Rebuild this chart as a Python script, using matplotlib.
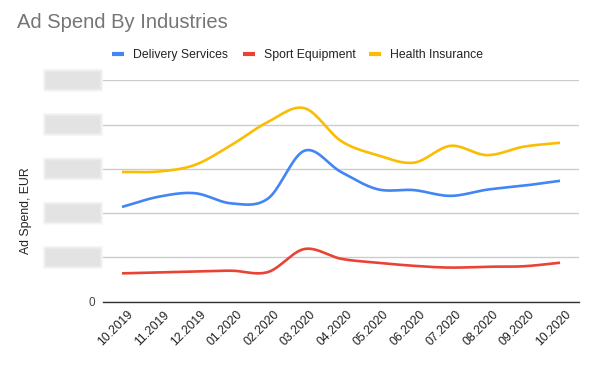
import numpy as np
import matplotlib
matplotlib.use('Agg')
import matplotlib.pyplot as plt
import matplotlib.transforms as mtransforms
from matplotlib.lines import Line2D
from matplotlib.patches import FancyBboxPatch

plt.rcParams['font.family'] = ['Liberation Sans', 'DejaVu Sans']

# data (units = gridline steps)
months = ['10.2019', '11.2019', '12.2019', '01.2020', '02.2020', '03.2020', '04.2020',
          '05.2020', '06.2020', '07.2020', '08.2020', '09.2020', '10.2020']
delivery = [2.14, 2.37, 2.45, 2.22, 2.33, 3.41, 2.93, 2.54, 2.52, 2.39, 2.53, 2.62, 2.73]
sport = [0.64, 0.66, 0.68, 0.70, 0.67, 1.19, 0.97, 0.88, 0.81, 0.77, 0.79, 0.80, 0.88]
health = [2.93, 2.94, 3.09, 3.54, 4.06, 4.37, 3.63, 3.31, 3.14, 3.52, 3.31, 3.50, 3.59]
yticks = [0, 1, 2, 3, 4, 5]

series = [('Delivery Services', delivery, '#4285f4'),
          ('Sport Equipment', sport, '#ea4335'),
          ('Health Insurance', health, '#fbbc04')]


def smooth(y, n=20):
    # catmull-rom curve through the points, like the "function" curve
    y = np.asarray(y, float)
    m = np.zeros_like(y)
    m[1:-1] = (y[2:] - y[:-2]) / 2
    m[0] = y[1] - y[0]
    m[-1] = y[-1] - y[-2]
    xs, ys = [], []
    for i in range(len(y) - 1):
        t = np.linspace(0, 1, n, endpoint=False)
        h00 = 2*t**3 - 3*t**2 + 1
        h10 = t**3 - 2*t**2 + t
        h01 = -2*t**3 + 3*t**2
        h11 = t**3 - t**2
        xs.append(i + t)
        ys.append(h00*y[i] + h10*m[i] + h01*y[i+1] + h11*m[i+1])
    xs.append([len(y) - 1])
    ys.append([y[-1]])
    return np.concatenate(xs), np.concatenate(ys)


fig = plt.figure(figsize=(6.04, 3.73), dpi=100)
ax = fig.add_axes([103/604, 1 - 301.7/373, 476/604, 221.4/373])

x = np.arange(len(months))
for name, vals, col in series:
    sx, sy = smooth(vals)
    ax.plot(sx, sy, color=col, lw=1.9, solid_capstyle='butt', zorder=3)

ax.set_xlim(-0.52, len(months) - 0.48)
ax.set_ylim(0, 5)
ax.set_yticks(yticks)
ax.yaxis.grid(True, color='#cccccc', lw=1)
ax.set_axisbelow(True)
ax.set_yticklabels(['0', '', '', '', '', ''], fontsize=8.5, color='#444444')
ax.tick_params(axis='y', length=0, pad=6)
ax.set_xticks(x)
ax.set_xticklabels(months, rotation=45, ha='right', va='top', rotation_mode='anchor',
                   fontsize=8.8, color='#222222')
ax.tick_params(axis='x', length=0, pad=5)
shift = mtransforms.ScaledTranslation(5/100, 0, fig.dpi_scale_trans)
for lab in ax.get_xticklabels():
    lab.set_transform(lab.get_transform() + shift)
for s in ['top', 'right', 'left']:
    ax.spines[s].set_visible(False)
ax.spines['bottom'].set_color('#333333')
ax.spines['bottom'].set_linewidth(1)

# blurred tick labels
for v in yticks[1:]:
    for k, a in enumerate([0.35, 0.6, 1.0]):
        grow = (2 - k) * 1.5
        box = FancyBboxPatch((-57/476 - grow/476, v - 0.19 - grow/44.3),
                             54/476 + 2*grow/476, 0.38 + 2*grow/44.3,
                             boxstyle='round,pad=0,rounding_size=0.01',
                             transform=ax.get_yaxis_transform(), clip_on=False,
                             fc='#e3e3e3', ec='none', alpha=a)
        ax.add_patch(box)

ax.set_ylabel('Ad Spend, EUR', fontsize=8.8, color='#222222', labelpad=0)
ax.yaxis.set_label_coords(-71/476, 0.41)

fig.text(17/604, 1 - 22/373, 'Ad Spend By Industries', fontsize=14.5, color='#757575',
         ha='left', va='center')

# legend
leg_x = [112, 243, 369]
leg_y = 1 - 53.5/373
for (name, vals, col), lx in zip(series, leg_x):
    fig.add_artist(Line2D([lx/604, (lx + 12)/604], [leg_y, leg_y],
                          color=col, lw=3, solid_capstyle='butt'))
    fig.text((lx + 21)/604, 1 - 57.8/373, name, fontsize=8.8, color='#222222',
             ha='left', va='baseline')

fig.savefig('out.png', dpi=100)
